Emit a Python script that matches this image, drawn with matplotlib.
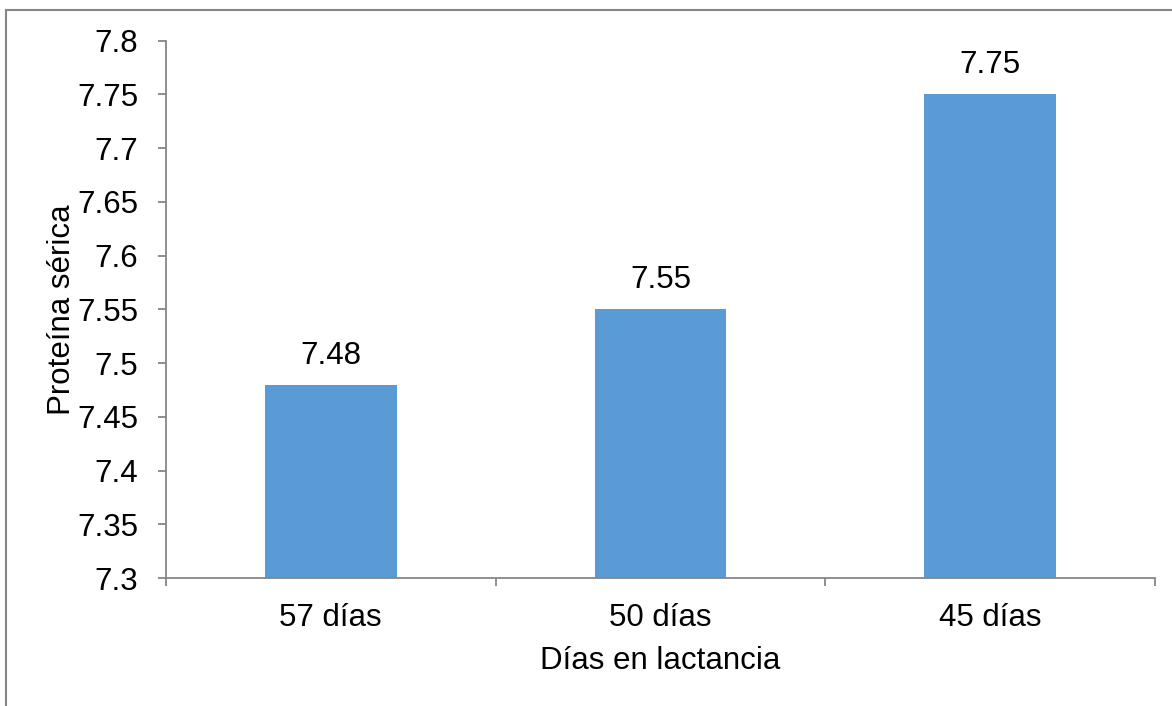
import matplotlib
matplotlib.use("Agg")
import matplotlib.pyplot as plt
from matplotlib.lines import Line2D

categories = ["57 días", "50 días", "45 días"]
values = [7.48, 7.55, 7.75]
y_ticks = [7.3, 7.35, 7.4, 7.45, 7.5, 7.55, 7.6, 7.65, 7.7, 7.75, 7.8]
y_tick_labels = ["7.3", "7.35", "7.4", "7.45", "7.5", "7.55", "7.6", "7.65", "7.7", "7.75", "7.8"]

plt.rcParams['font.family'] = ['Liberation Sans', 'DejaVu Sans']
fs = 22.5

fig = plt.figure(figsize=(11.72, 7.06), dpi=100)
ax = fig.add_axes([0.1416, 0.1813, 0.8439, 0.7611])

gray = '#868686'
x = list(range(len(categories)))
bars = ax.bar(x, values, width=0.4, color='#5B9BD5', zorder=2)

ax.set_xlim(-0.5, len(categories) - 0.5)
ax.set_ylim(7.3, 7.8)
ax.set_yticks(y_ticks)
ax.set_yticklabels(y_tick_labels, fontsize=fs)

# category labels without ticks, boundary ticks on the bottom axis
ax.set_xticks(x)
ax.set_xticklabels(categories, fontsize=fs)
ax.tick_params(axis='x', length=0, pad=18)
ax.set_xticks([-0.5, 0.5, 1.5, 2.5], minor=True)
ax.tick_params(axis='x', which='minor', length=6, width=1.3, color=gray)
ax.tick_params(axis='y', length=6, width=1.3, color=gray, pad=14)

for side in ['top', 'right']:
    ax.spines[side].set_visible(False)
for side in ['left', 'bottom']:
    ax.spines[side].set_color(gray)
    ax.spines[side].set_linewidth(1.3)

for bar, v in zip(bars, values):
    ax.text(bar.get_x() + bar.get_width() / 2, v + 0.027, f"{v:.2f}",
            ha='center', va='center', fontsize=fs)

ax.set_ylabel("Proteína sérica", fontsize=fs, labelpad=0)
ax.set_xlabel("Días en lactancia", fontsize=fs, labelpad=9)

# outer chart border (top and left visible)
fig.add_artist(Line2D([6 / 1172, 6 / 1172], [0, 1 - 10 / 706], color=gray, lw=1.5))
fig.add_artist(Line2D([6 / 1172, 1], [1 - 10 / 706, 1 - 10 / 706], color=gray, lw=1.5))

fig.savefig("out.png", dpi=100)
